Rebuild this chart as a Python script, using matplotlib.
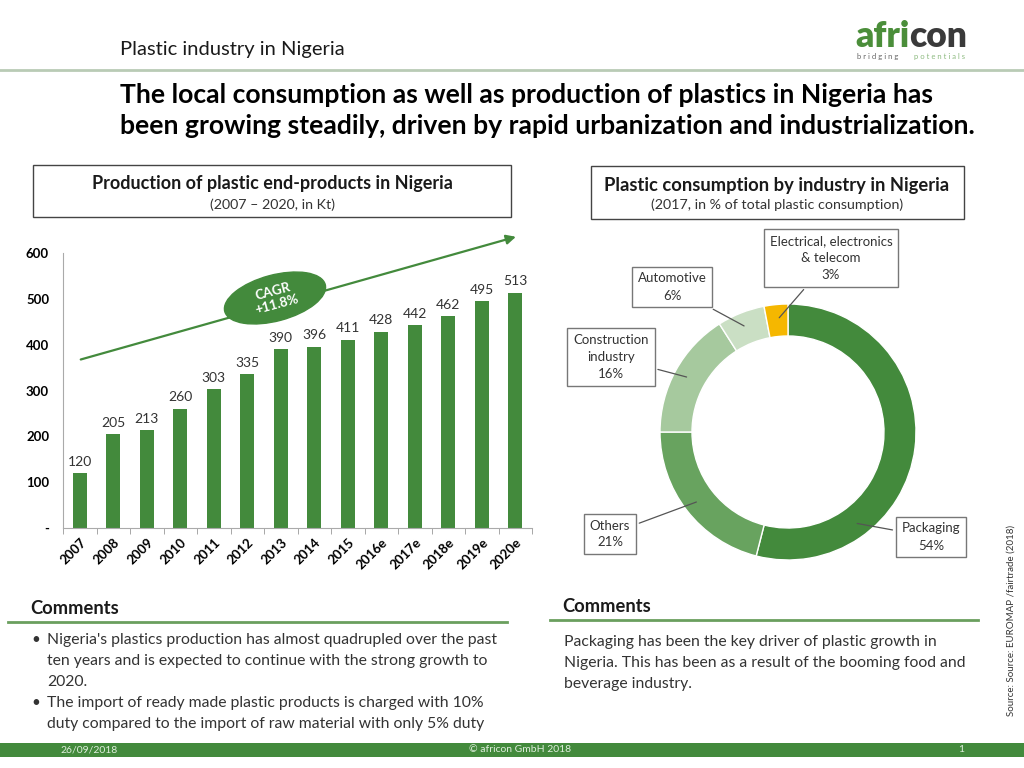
import numpy as np
import matplotlib
matplotlib.use("Agg")
import matplotlib.pyplot as plt
from matplotlib.patches import Ellipse, Rectangle

plt.rcParams['font.family'] = ['Lato', 'DejaVu Sans']

# ---- data ----
years = ["2007", "2008", "2009", "2010", "2011", "2012", "2013", "2014", "2015",
         "2016e", "2017e", "2018e", "2019e", "2020e"]
production_kt = [120, 205, 213, 260, 303, 335, 390, 396, 411, 428, 442, 462, 495, 513]
y_ticks = [0, 100, 200, 300, 400, 500, 600]
y_tick_labels = ["-", "100", "200", "300", "400", "500", "600"]

industries = ["Packaging", "Others", "Construction\nindustry", "Automotive",
              "Electrical, electronics\n& telecom"]
shares = [54, 21, 16, 6, 3]
share_colors = ["#438a3c", "#68a35f", "#a6c99e", "#cadfc4", "#f5b700"]

bullets_left = [
    ["Nigeria's plastics production has almost quadrupled over the past",
     "ten years and is expected to continue with the strong growth to",
     "2020."],
    ["The import of ready made plastic products is charged with 10%",
     "duty compared to the import of raw material with only 5% duty"],
]
comment_right = ["Packaging has been the key driver of plastic growth in",
                 "Nigeria. This has been as a result of the booming food and",
                 "beverage industry."]

GREEN = "#438a3c"
DARK = "#1a1a1a"
TXT = "#333333"
W, H = 1024, 768

fig = plt.figure(figsize=(W / 100, H / 100), dpi=100)

# background overlay in pixel coordinates (y down)
bg = fig.add_axes([0, 0, 1, 1], zorder=-1)
bg.set_xlim(0, W)
bg.set_ylim(H, 0)
bg.axis("off")

# header
bg.text(120, 50, "Plastic industry in Nigeria", fontsize=14.5, color=DARK, va="center")
t1 = bg.text(855, 47, "afri", fontsize=25.5, fontweight="heavy", color="#4b8e3a", va="baseline")
bg.annotate("con", xy=(1, 0), xycoords=t1, fontsize=25.5, fontweight="heavy",
            color="#3a3a3a", va="bottom")
bg.text(857, 57, "b r i d g i n g", fontsize=5.5, color="#666666", va="center")
bg.text(914, 57, "p o t e n t i a l s", fontsize=5.5, color="#8cba7f", va="center")
bg.plot([0, W], [70, 70], color="#b9cbb5", lw=2)
bg.text(120, 95, "The local consumption as well as production of plastics in Nigeria has",
        fontsize=19.1, fontweight="bold", color="black", va="center")
bg.text(120, 126, "been growing steadily, driven by rapid urbanization and industrialization.",
        fontsize=19.1, fontweight="bold", color="black", va="center")

# chart title boxes
bg.add_patch(Rectangle((33, 165), 478, 52, fill=False, ec="#444444", lw=1))
bg.text(272, 184, "Production of plastic end-products in Nigeria", fontsize=13,
        fontweight="bold", ha="center", va="center", color=DARK)
bg.text(272, 205, "(2007 \u2013 2020, in Kt)", fontsize=10.3, ha="center", va="center", color=TXT)
bg.add_patch(Rectangle((591, 166), 373, 53, fill=False, ec="#444444", lw=1))
bg.text(777, 185, "Plastic consumption by industry in Nigeria", fontsize=13.2,
        fontweight="bold", ha="center", va="center", color=DARK)
bg.text(777, 205, "(2017, in % of total plastic consumption)", fontsize=10.3,
        ha="center", va="center", color=TXT)

# comments
bg.text(30, 609, "Comments", fontsize=13.2, fontweight="bold", va="center", color=DARK)
bg.plot([8, 507], [622, 622], color="#6a9f5e", lw=2)
yb = 640
for lines in bullets_left:
    bg.text(31, yb, "\u2022", fontsize=11, va="center", color=TXT)
    for ln in lines:
        bg.text(47, yb, ln, fontsize=11.3, va="center", color=TXT)
        yb += 21
bg.text(562, 606, "Comments", fontsize=13.2, fontweight="bold", va="center", color=DARK)
bg.plot([550, 978], [620, 620], color="#6a9f5e", lw=2)
for i, ln in enumerate(comment_right):
    bg.text(564, 642 + 21 * i, ln, fontsize=11.3, va="center", color=TXT)

# source
bg.text(1011, 620, "Source: Source: EUROMAP /fairtrade (2018)", fontsize=7, rotation=90,
        ha="center", va="center", color=TXT)

# footer
bg.add_patch(Rectangle((0, 743), W, 14, color=GREEN, lw=0))
bg.text(60, 750, "26/09/2018", fontsize=7.5, color="#dfeedd", va="center")
bg.text(520, 750, "\u00a9 africon GmbH 2018", fontsize=7.5, color="#dfeedd", va="center", ha="center")
bg.text(958, 750, "1", fontsize=7.5, color="#dfeedd", va="center")

# ---- bar chart ----
ax = fig.add_axes([63 / W, (H - 528) / H, (532 - 63) / W, (528 - 253) / H])
ax.set_facecolor("none")
x = np.arange(len(years))
ax.bar(x, production_kt, width=0.42, color=GREEN, zorder=2)
for xi, v in zip(x, production_kt):
    ax.text(xi, v + 12, str(v), ha="center", va="bottom", fontsize=10, color=TXT)
ax.set_xlim(-0.5, len(years) - 0.5)
ax.set_ylim(0, 600)
ax.set_yticks(y_ticks)
ax.set_yticklabels(y_tick_labels, fontweight="bold", fontsize=9.5)
ax.set_xticks(x)
ax.set_xticklabels(years, rotation=45, ha="right", rotation_mode="anchor",
                   fontweight="bold", fontsize=9.5)
ax.set_xticks(np.arange(-0.5, len(years)), minor=True)
ax.tick_params(axis="x", which="major", length=0, pad=6)
ax.tick_params(axis="x", which="minor", length=4, color="#999999")
ax.tick_params(axis="y", length=0, pad=10)
for s in ["top", "right"]:
    ax.spines[s].set_visible(False)
for s in ["left", "bottom"]:
    ax.spines[s].set_color("#aaaaaa")

# CAGR trend arrow and ellipse
ax.annotate("", xy=(13.1, 637), xytext=(-0.05, 366),
            arrowprops=dict(arrowstyle="-|>", color=GREEN, lw=1.6, mutation_scale=14),
            annotation_clip=False, zorder=3)
ell = Ellipse((275, 298), 104, 46, angle=-15, color=GREEN, transform=bg.transData,
              clip_on=False, zorder=4)
ax.add_artist(ell)
ax.text(275, 298, "CAGR\n+11.8%", transform=bg.transData, ha="center", va="center",
        rotation=15, color="white", fontsize=9.5, fontweight="bold", zorder=5, linespacing=1.1)

# ---- donut ----
cx, cy, R = 788, 432, 128
axp = fig.add_axes([(cx - R) / W, (H - cy - R) / H, 2 * R / W, 2 * R / H])
axp.pie(shares, colors=share_colors, startangle=90, counterclock=False,
        radius=1.0, wedgeprops=dict(width=0.25, edgecolor="white", linewidth=1))
axp.set_xlim(-1, 1)
axp.set_ylim(-1, 1)
axp.set_aspect("equal")

label_pos = [(931, 537), (610, 534), (611, 357), (672, 287), (831, 258)]
leader_frac = [0.74, 0.5, 0.5, 0.5, 0.5]   # where along each wedge the leader line ends
cum = np.cumsum([0] + shares[:-1])
for name, val, c0, pos, f in zip(industries, shares, cum, label_pos, leader_frac):
    ang = np.deg2rad(90 - 360 * (c0 + val * f) / 100)
    pt = (0.88 * np.cos(ang), 0.88 * np.sin(ang))
    axp.annotate(f"{name}\n{val}%", xy=pt, xytext=pos, textcoords=bg.transData,
                 ha="center", va="center", fontsize=9.5, color=TXT, linespacing=1.5,
                 bbox=dict(boxstyle="square,pad=0.45", fc="white", ec="#777777", lw=1),
                 arrowprops=dict(arrowstyle="-", color="#555555", lw=0.9),
                 annotation_clip=False)

fig.savefig("out.png", dpi=100)
